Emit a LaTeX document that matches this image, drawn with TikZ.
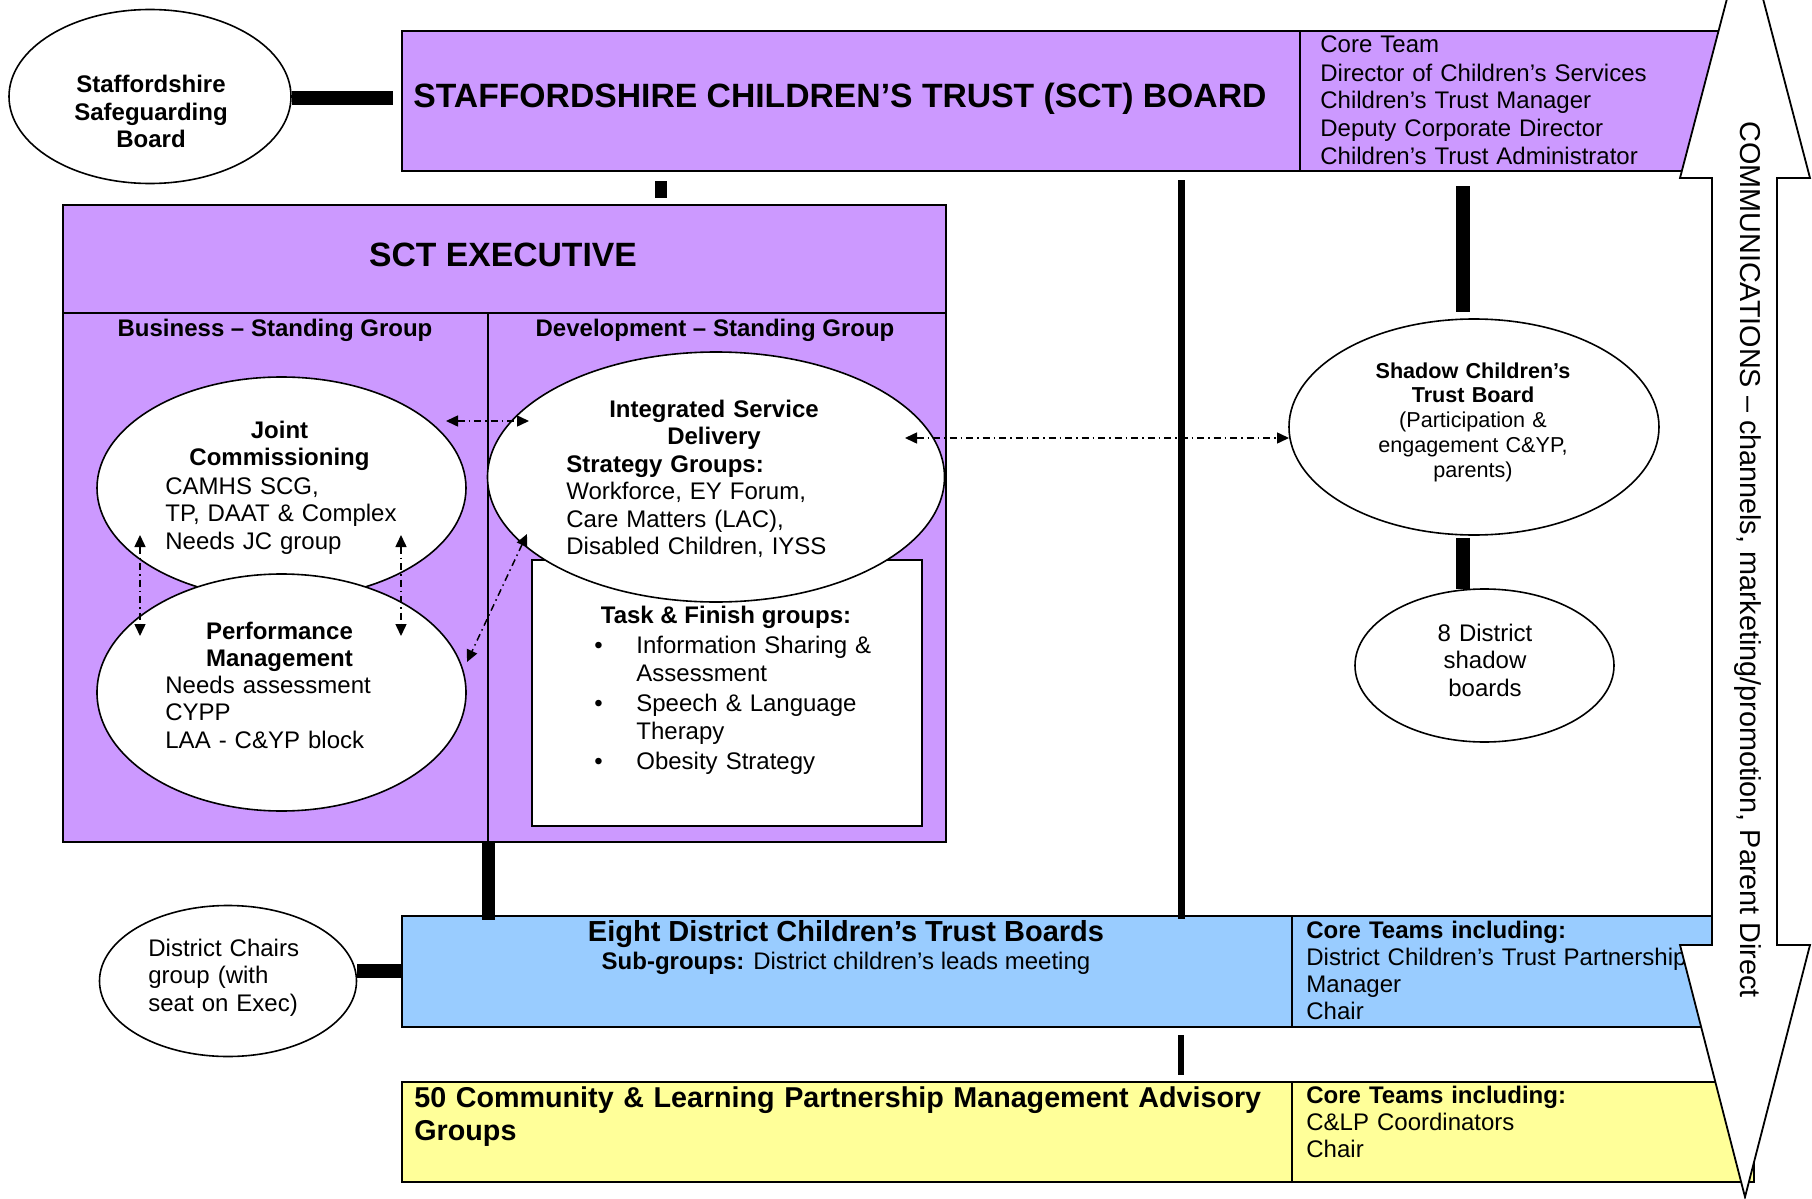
\documentclass[tikz,border=0pt]{standalone}
\usepackage{fontspec}
\setmainfont{Liberation Sans}
\usetikzlibrary{shapes.geometric,arrows.meta,calc}
\definecolor{purp}{HTML}{CC99FF}
\definecolor{blu}{HTML}{99CCFF}
\definecolor{yel}{HTML}{FFFF99}
\begin{document}
\begin{tikzpicture}[x=0.5pt,y=-0.5pt,
  box/.style={draw=black,line width=1pt,rectangle,inner sep=0,anchor=north west},
  ell/.style={ellipse,draw=black,fill=white,line width=0.8pt,inner sep=0},
  txt/.style={inner sep=0,font=\fontsize{12}{13.75}\selectfont},
  ltxt/.style={txt,anchor=base west,align=left,text width=#1},
  ctxt/.style={txt,anchor=base,align=center,text width=#1},
  bigtitle/.style={inner sep=0,font=\bfseries\fontsize{16.85}{19}\selectfont},
  bar/.style={line width=#1},
  dda/.style={line width=0.75pt,dash pattern=on 3.5pt off 2pt on 0.75pt off 2pt,
    {Triangle[length=6pt,width=5.5pt]}-{Triangle[length=6pt,width=5.5pt]}},
]
\useasboundingbox (0,0) rectangle (1812,1199);

% ---------- top board ----------
\node[box,fill=purp,minimum width=672pt,minimum height=70pt] (board) at (401,30) {};
\draw[line width=1pt] ($(board.north west)+(899,0)$) -- ($(board.south west)+(899,0)$);
\node[bigtitle,anchor=base west] (boardtitle) at (413,107) {STAFFORDSHIRE CHILDREN’S TRUST (SCT) BOARD};
\node[ltxt=380pt,font=\fontsize{12}{14}\selectfont] (coreteam) at (1320,53)
  {Core Team\\Director of Children’s Services\\Children’s Trust Manager\\Deputy Corporate Director\\Children’s Trust Administrator};

% ---------- safeguarding ----------
\node[ell,minimum width=141pt,minimum height=87pt] (safe) at (150,96.5) {};
\node[ctxt=130pt,font=\bfseries\fontsize{12}{13.75}\selectfont] (safetext) at (151,92.5)
  {Staffordshire\\Safeguarding\\Board};
\draw[bar=7pt] ($(safe.east)+(0,1.5)$) -- ($(board.north west)+(-8,68)$);

% ---------- SCT executive ----------
\node[box,fill=purp,minimum width=441.5pt,minimum height=318.5pt] (exec) at (62,204) {};
\draw[line width=1pt] ($(exec.north west)+(0,109)$) -- ($(exec.north east)+(0,109)$);
\draw[line width=1pt] ($(exec.north west)+(426,109)$) -- ($(exec.south west)+(426,0)$);
\node[bigtitle,anchor=base] (exectitle) at (503,266) {SCT EXECUTIVE};
\node[txt,font=\bfseries\fontsize{12}{13.75}\selectfont,anchor=base] (business) at (275,336) {Business – Standing Group};
\node[txt,font=\bfseries\fontsize{12}{13.75}\selectfont,anchor=base] (development) at (715,336) {Development – Standing Group};

% task & finish box
\node[box,fill=white,minimum width=195pt,minimum height=133pt] (task) at (531,559) {};
\node[txt,font=\bfseries\fontsize{12}{13.75}\selectfont,anchor=base] (tasktitle) at (726,623) {Task \& Finish groups:};
\node[ltxt=190pt,font=\fontsize{12}{14}\selectfont] (tasklist) at (594,653)
  {\makebox[21pt][l]{•}Information Sharing \&\\\hspace*{21pt}Assessment\\[1pt]\makebox[21pt][l]{•}Speech \& Language\\\hspace*{21pt}Therapy\\[1pt]\makebox[21pt][l]{•}Obesity Strategy};

% ellipses in exec
\node[ell,minimum width=184.5pt,minimum height=111pt] (joint) at (281.5,488) {};
\node[ell,minimum width=184.5pt,minimum height=118.5pt] (perf) at (281.5,692.5) {};
\node[ell,minimum width=228.5pt,minimum height=125pt] (isd) at (716,477) {};

\node[ctxt=170pt,font=\bfseries\fontsize{12}{13.75}\selectfont] (jointtitle) at (279.5,438) {Joint\\Commissioning};
\node[ltxt=170pt] (jointbody) at (165,494) {CAMHS SCG,\\TP, DAAT \& Complex\\Needs JC group};
\node[ctxt=170pt,font=\bfseries\fontsize{12}{13.75}\selectfont] (perftitle) at (279.5,639) {Performance\\Management};
\node[ltxt=170pt] (perfbody) at (165,693) {Needs assessment\\CYPP\\LAA - C\&YP block};
\node[ctxt=200pt,font=\bfseries\fontsize{12}{13.75}\selectfont] (isdtitle) at (714,417) {Integrated Service\\Delivery};
\node[ltxt=200pt] (isdbody) at (566,472) {\textbf{Strategy Groups:}\\Workforce, EY Forum,\\Care Matters (LAC),\\Disabled Children, IYSS};

% ---------- shadow boards ----------
\node[ell,minimum width=185pt,minimum height=108pt] (shadow) at (1474,427) {};
\node[ctxt=170pt,font=\fontsize{10.8}{12.4}\selectfont] (shadowtext) at (1473,378)
  {\textbf{Shadow Children’s}\\\textbf{Trust Board}\\(Participation \&\\engagement C\&YP,\\parents)};
\node[ell,minimum width=129.5pt,minimum height=76.5pt] (eight) at (1484.5,665.5) {};
\node[ctxt=120pt,font=\fontsize{12}{13.9}\selectfont] (eighttext) at (1485,641) {8 District\\shadow\\boards};

% ---------- district boards ----------
\node[box,fill=blu,minimum width=672pt,minimum height=55.5pt] (blue) at (401,915) {};
\draw[line width=1pt] ($(blue.north west)+(891,0)$) -- ($(blue.south west)+(891,0)$);
\node[txt,font=\bfseries\fontsize{14.5}{17}\selectfont,anchor=base] (bluetitle) at (846,941) {Eight District Children’s Trust Boards};
\node[txt,anchor=base] (bluesub) at (846,969) {\textbf{Sub-groups:} District children’s leads meeting};
\node[ltxt=300pt,font=\fontsize{12}{13.6}\selectfont] (bluecore) at (1306,938)
  {\textbf{Core Teams including:}\\District Children’s Trust Partnership\\Manager\\Chair};

\node[ell,minimum width=128.5pt,minimum height=75.5pt] (chairs) at (228,981) {};
\node[ltxt=120pt] (chairstext) at (148,956) {District Chairs\\group (with\\seat on Exec)};
\draw[bar=7pt] ($(chairs.east)+(0,-10.5)$) -- ($(blue.north west)+(0,55.5)$);

% ---------- C&LP ----------
\node[box,fill=yel,minimum width=676pt,minimum height=50pt] (yellow) at (401,1081) {};
\draw[line width=1pt] ($(yellow.north west)+(891,0)$) -- ($(yellow.south west)+(891,0)$);
\node[ltxt=450pt,font=\bfseries\fontsize{14.35}{16.6}\selectfont] (yellowtitle) at (414,1107)
  {50 Community \& Learning Partnership Management Advisory\\Groups};
\node[ltxt=220pt,font=\fontsize{12}{13.6}\selectfont] (yellowcore) at (1306,1103)
  {\textbf{Core Teams including:}\\C\&LP Coordinators\\Chair};

% ---------- thick connectors ----------
\draw[bar=5.75pt] ($(board.south west)+(260,9)$) -- ($(exec.north west)+(599,-6)$);
\draw[bar=3.5pt] ($(board.south west)+(780,8)$) -- ($(blue.north west)+(780,4)$);
\draw[bar=3.3pt] ($(blue.south west)+(780,7)$) -- ($(yellow.north west)+(780,-6)$);
\draw[bar=7.3pt] ($(board.south west)+(1062,14)$) -- ($(shadow.north)+(-11,-6)$);
\draw[bar=7pt] ($(shadow.south)+(-11,2)$) -- ($(eight.north)+(-21.5,1)$);
\draw[bar=6.5pt] ($(exec.south west)+(426,0)$) -- ($(blue.north west)+(87,5)$);

% ---------- dash-dot arrows ----------
\draw[dda] ($(joint.center)+(164.5,-67)$) -- ($(isd.center)+(-187,-56)$);
\draw[dda] ($(joint.center)+(-141.5,47)$) -- ($(perf.center)+(-141.5,-56.5)$);
\draw[dda] ($(joint.center)+(119.5,47)$) -- ($(perf.center)+(119.5,-56.5)$);
\draw[dda] ($(isd.center)+(-189,57)$) -- ($(perf.center)+(185.5,-30.5)$);
\draw[dda] ($(isd.center)+(189,-39)$) -- ($(shadow.center)+(-185,11)$);

% ---------- communications arrow ----------
\draw[line width=0.9pt,fill=white] (1745,-70) -- (1810,178) -- (1777,178) -- (1777,945) -- (1810,945)
  -- (1745,1197) -- (1680,945) -- (1712,945) -- (1712,178) -- (1680,178) -- cycle;
\node[txt,font=\fontsize{14.4}{17}\selectfont,rotate=-90,anchor=base west] (commtext) at (1740,121)
  {COMMUNICATIONS – channels, marketing/promotion, Parent Direct};
\end{tikzpicture}
\end{document}
